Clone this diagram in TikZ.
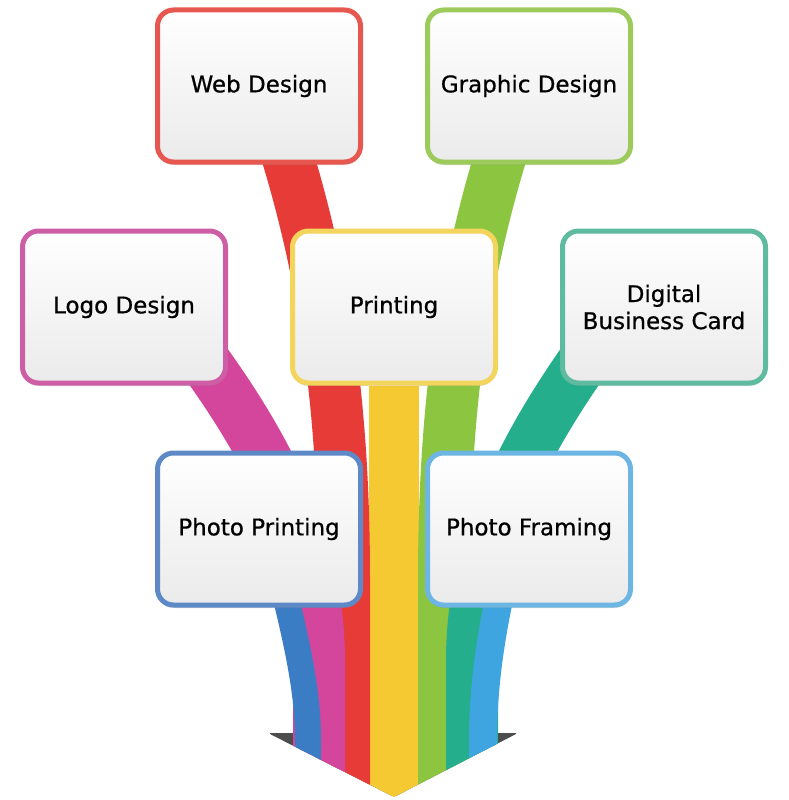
\documentclass[tikz,border=0pt]{standalone}
\usepackage{fontspec}
\setmainfont{DejaVu Sans}
\newfontfamily\cardfont{DejaVu Sans}[FakeBold=0.7]
\usepackage{tikz}
\definecolor{arrowgray}{HTML}{4D4D4D}
\definecolor{yellowline}{HTML}{F3D45C}
\definecolor{yellowband}{HTML}{F5C932}
\definecolor{redline}{HTML}{E5574F}
\definecolor{redband}{HTML}{E63B36}
\definecolor{greenline}{HTML}{9CCB5C}
\definecolor{greenband}{HTML}{8CC640}
\definecolor{pinkline}{HTML}{CD5EA6}
\definecolor{pinkband}{HTML}{D3469B}
\definecolor{tealline}{HTML}{5EBB9F}
\definecolor{tealband}{HTML}{24AE8B}
\definecolor{blueline}{HTML}{5E89C7}
\definecolor{blueband}{HTML}{3B7DC4}
\definecolor{skyline}{HTML}{6DB5E2}
\definecolor{skyband}{HTML}{3FA5E0}
\tikzset{
    card/.style={rectangle,rounded corners=16pt,draw=#1,line width=5pt,top color=white,bottom color=black!8,minimum width=203pt,minimum height=152pt,inner sep=0pt,align=center,text=black,font=\cardfont\fontsize{23}{27}\selectfont,drop shadow={opacity=.25,shadow xshift=0pt,shadow yshift=-3pt}},
    ribbon/.style={draw=#1,line width=52pt},
}
\usetikzlibrary{shadows}
\usetikzlibrary{positioning,backgrounds}
\begin{document}
\begin{tikzpicture}[x=1pt,y=-1pt,on grid]
\useasboundingbox (0,0) rectangle (788,800);
\node[card=yellowline](print) at (394,307) {Printing};
\node[card=redline](web) [above left=221pt and 135pt of print] {Web Design};
\node[card=greenline](graphic) [above right=221pt and 135pt of print] {Graphic Design};
\node[card=pinkline](logo) [left=270pt of print] {Logo Design};
\node[card=tealline](bcard) [right=270pt of print] {Digital\\Business Card};
\node[card=blueline](photo) [below left=222pt and 135pt of print] {Photo Printing};
\node[card=skyline](frame) [below right=222pt and 135pt of print] {Photo Framing};
\coordinate (tip) at (394,797);
\begin{scope}[on background layer]
\fill[arrowgray,rounded corners=3pt] (268,733) -- (518,733) -- (tip) -- cycle;
\begin{scope}
\clip (0,0) -- (788,0) -- (788,733) -- (518,733) -- (tip) -- (268,733) -- (0,733) -- cycle;
\draw[ribbon=yellowband,line width=50pt] (print) -- (tip);
\draw[ribbon=redband] ([shift={(28,-10)}]web.south) .. controls (328,290) and (344,420) .. (344,580) -- ([xshift=-50pt]tip);
\draw[ribbon=greenband] ([shift={(-28,-10)}]graphic.south) .. controls (460,290) and (444,420) .. (444,580) -- ([xshift=50pt]tip);
\draw[ribbon=pinkband] ([shift={(76,48)}]logo.center) .. controls (262,440) and (319,540) .. (319,660) -- ([xshift=-75pt]tip);
\draw[ribbon=tealband] ([shift={(-76,48)}]bcard.center) .. controls (528,440) and (472,540) .. (472,660) -- ([xshift=78pt]tip);
\draw[ribbon=blueband,line width=26pt] ([shift={(25,61)}]photo.center) .. controls (296,640) and (308,690) .. (308,740) -- ([xshift=-86pt]tip);
\draw[ribbon=skyband,line width=28pt] ([shift={(-28,61)}]frame.center) .. controls (490,640) and (483,690) .. (483,740) -- ([xshift=89pt]tip);
\end{scope}
\end{scope}
\end{tikzpicture}
\end{document}
